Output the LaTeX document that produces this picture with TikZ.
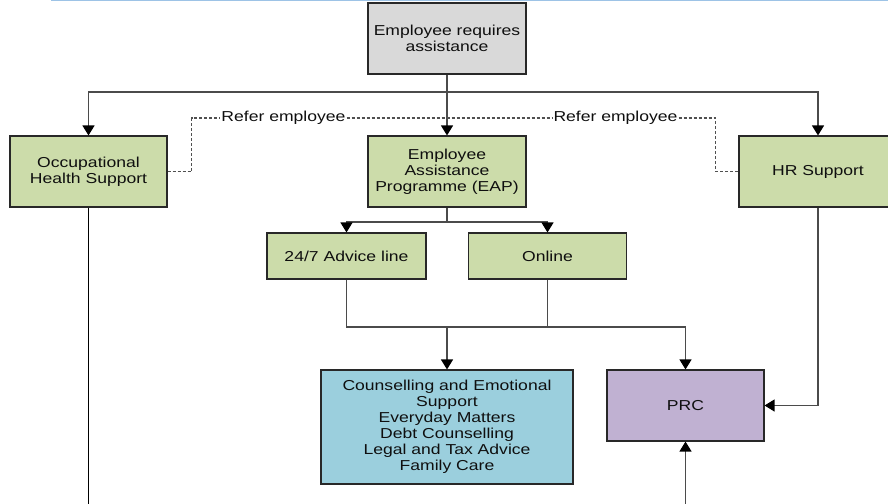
\documentclass[tikz,border=0pt]{standalone}
\usepackage{fontspec}
\setmainfont{Liberation Sans}[FakeStretch=1.22]
\usetikzlibrary{arrows.meta}
\definecolor{graybox}{RGB}{217,217,217}
\definecolor{greenbox}{RGB}{204,220,170}
\definecolor{bluebox}{RGB}{155,207,221}
\definecolor{purplebox}{RGB}{192,177,210}
\definecolor{boxline}{RGB}{40,40,40}
\definecolor{connline}{RGB}{75,75,75}
\definecolor{dashcol}{RGB}{80,80,80}
\definecolor{textcol}{RGB}{15,15,15}
\definecolor{topline}{RGB}{157,195,230}
\begin{document}
\begin{tikzpicture}[x=1pt,y=-1pt,
  box/.style={draw=boxline, line width=1.1pt, inner sep=0pt, align=center,
    font=\fontsize{14.4}{16}\selectfont, text=textcol},
  lab/.style={inner sep=1pt, font=\fontsize{14.4}{16}\selectfont, text=textcol},
  conn/.style={draw=connline, line width=1.2pt},
  arr/.style={conn, -{Triangle[width=12pt,length=10pt,color=black]}},
  refer/.style={draw=dashcol, line width=1.1pt, dash pattern=on 3pt off 2pt},
]
\useasboundingbox (0,0) rectangle (888,503);
\clip (0,0) rectangle (888,503);
\draw[draw=topline, line width=1.5pt] (51,0.75) -- (890,0.75);

\node[box, fill=graybox, minimum width=158pt, minimum height=71pt] (top) at (447,38.5) {Employee requires\\assistance};
\node[box, fill=greenbox, minimum width=157pt, minimum height=71pt] (occ) at (88.5,171.5) {Occupational\\Health Support};
\node[box, fill=greenbox, minimum width=158pt, minimum height=71pt] (eap) at (447,171.5) {Employee\\Assistance\\Programme (EAP)};
\node[box, fill=greenbox, minimum width=158pt, minimum height=71pt] (hr) at (818,171.5) {HR Support};
\node[box, fill=greenbox, minimum width=159pt, minimum height=46pt] (adv) at (346.5,256) {24/7 Advice line};
\node[box, fill=greenbox, minimum width=158pt, minimum height=46pt] (onl) at (547.5,256) {Online};
\node[box, fill=bluebox, minimum width=252pt, minimum height=114pt] (couns) at (447,427) {Counselling and Emotional\\Support\\Everyday Matters\\Debt Counselling\\Legal and Tax Advice\\Family Care};
\node[box, fill=purplebox, minimum width=157pt, minimum height=71pt] (prc) at (685.5,405.5) {PRC};

\node[lab] (r1) at (283.5,118) {Refer employee};
\node[lab] (r2) at (615.5,118) {Refer employee};

\coordinate (split) at (447,92);
\draw[arr] (top.south) -- (eap.north);
\draw[arr] (split) -| (occ.north);
\draw[arr] (split) -| (hr.north);

\coordinate (s2) at (447,222);
\draw[conn] (eap.south) -- (s2);
\draw[arr] (s2) -| (adv.north);
\draw[arr] (s2) -| (onl.north);

\coordinate (m) at (447,327);
\draw[conn] (adv.south) |- (m);
\draw[conn] (onl.south) |- (m);
\draw[arr] (m) -- (couns.north);
\draw[arr] (m) -| (prc.north);

\draw[arr] (hr.south) |- (prc.east);
\coordinate (bot) at (685.5,506);
\draw[arr] (bot) -- (prc.south);
\coordinate (occbot) at (88.5,506);
\draw[conn, draw=black] (occ.south) -- (occbot);

\draw[refer] (occ.east) -- ++(24,0) |- (r1.west);
\draw[refer] (r1.east) -- (r2.west);
\draw[refer] (r2.east) -| ([xshift=-23pt]hr.west) -- (hr.west);
\end{tikzpicture}
\end{document}
